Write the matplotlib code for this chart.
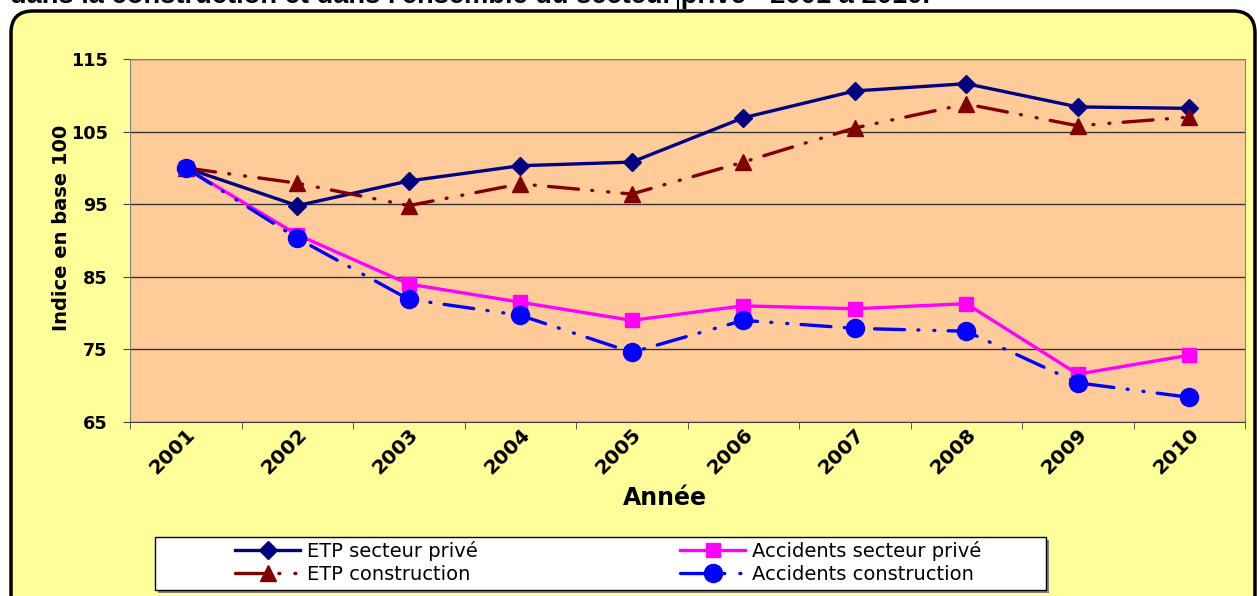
import matplotlib

matplotlib.use("Agg")
import matplotlib.pyplot as plt
from matplotlib.patches import FancyBboxPatch, Rectangle
from matplotlib.lines import Line2D
from matplotlib.transforms import IdentityTransform

plt.rcParams["font.family"] = ["DejaVu Sans"]

years = ["2001", "2002", "2003", "2004", "2005", "2006", "2007", "2008", "2009", "2010"]
etp_prive = [100.0, 94.8, 98.2, 100.3, 100.8, 106.9, 110.6, 111.6, 108.4, 108.2]
etp_construction = [100.0, 97.9, 94.8, 97.8, 96.4, 100.8, 105.5, 108.8, 105.8, 107.0]
acc_prive = [100.0, 90.8, 84.0, 81.5, 79.0, 81.0, 80.6, 81.3, 71.6, 74.2]
acc_construction = [100.0, 90.3, 81.9, 79.7, 74.6, 79.0, 77.9, 77.5, 70.4, 68.4]
y_ticks = [65, 75, 85, 95, 105, 115]

title = "dans la construction et dans l'ensemble du secteur privé - 2001 à 2010."

W, H = 1257, 596
fig = plt.figure(figsize=(W / 100, H / 100), dpi=100)
fig.patch.set_facecolor("white")

# yellow rounded frame (pixel coords)
frame = FancyBboxPatch(
    (11, -40), 1244, H - 11 + 40,
    boxstyle="round,pad=0,rounding_size=22",
    transform=IdentityTransform(),
    facecolor="#FFFF99", edgecolor="black", linewidth=2.5, zorder=0,
)
fig.patches.append(frame)

# title, cut at the top edge like the source
fig.text(10 / W, 1 - 3 / H, title, ha="left", va="baseline",
         fontsize=19.6, fontweight="bold", family="Liberation Sans")
fig.add_artist(Line2D([678 / W, 678 / W], [1, 1 - 10 / H], color="black",
                      linewidth=1.5, transform=fig.transFigure))

ax = fig.add_axes([130 / W, 1 - 422 / H, (1245 - 130) / W, (422 - 59) / H])
ax.set_zorder(2)
ax.set_facecolor("#FFCC99")
x = list(range(len(years)))

dashdotdot = (0, (9, 4, 0.3, 4.5, 0.3, 4))
lw = 2.4

ax.plot(x, etp_prive, color="#000080", linewidth=lw, marker="D",
        markersize=9, label="ETP secteur privé", zorder=3)
ax.plot(x, etp_construction, color="#800000", linewidth=lw, linestyle=dashdotdot,
        marker="^", markersize=12, label="ETP construction", zorder=3,
        dash_capstyle="round")
ax.plot(x, acc_prive, color="#FF00FF", linewidth=lw, marker="s",
        markersize=10.5, label="Accidents secteur privé", zorder=3)
ax.plot(x, acc_construction, color="#0000FF", linewidth=lw, linestyle=dashdotdot,
        marker="o", markersize=13, label="Accidents construction", zorder=3,
        dash_capstyle="round")

ax.set_xlim(-0.5, len(years) - 0.5)
ax.set_ylim(65, 115)
ax.set_yticks(y_ticks)
ax.yaxis.grid(True, color="#333333", linewidth=1)
ax.set_axisbelow(True)

ax.set_xticks(x)
ax.set_xticklabels(years, rotation=45, ha="right", rotation_mode="anchor",
                   fontsize=14.5, fontweight="bold")
ax.set_xticks([i - 0.5 for i in range(len(years) + 1)], minor=True)
ax.tick_params(axis="x", which="major", length=0, pad=2)
ax.tick_params(axis="x", which="minor", length=5, color="#404040")
ax.tick_params(axis="y", length=5, color="#404040", pad=11)
for lab in ax.get_yticklabels():
    lab.set_fontsize(12.7)
    lab.set_fontweight("bold")

for side in ["left", "top", "right"]:
    ax.spines[side].set_color("#808080")
ax.spines["bottom"].set_color("#404040")

ax.set_xlabel("Année", fontsize=17, fontweight="bold")
ax.xaxis.set_label_coords((665 - 130) / 1115, (422 - 486) / 363)
ax.set_ylabel("Indice en base 100", fontsize=14, fontweight="bold")
ax.yaxis.set_label_coords((71 - 130) / 1115, (422 - 228) / 363)

# legend box with shadow, legend itself frameless inside
shadow = Rectangle((158, H - 593), 1046 - 155, 590 - 537,
                   transform=IdentityTransform(), facecolor="#808080",
                   edgecolor="none", zorder=3)
box = Rectangle((155, H - 590), 1046 - 155, 590 - 537,
                transform=IdentityTransform(), facecolor="white",
                edgecolor="black", linewidth=1, zorder=3)
fig.patches.extend([shadow, box])

handles, labels = ax.get_legend_handles_labels()
leg = fig.legend(
    handles, labels,
    loc="upper left", bbox_to_anchor=(235 / W, 1 - 541 / H),
    ncol=2, frameon=False, numpoints=1,
    prop={"family": "DejaVu Sans", "size": 14},
    handlelength=3.35, handletextpad=0.36, columnspacing=10.4,
    labelspacing=0.2, borderpad=0, borderaxespad=0,
)
leg.set_zorder(4)

fig.savefig("out.png", dpi=100, facecolor=fig.get_facecolor())
